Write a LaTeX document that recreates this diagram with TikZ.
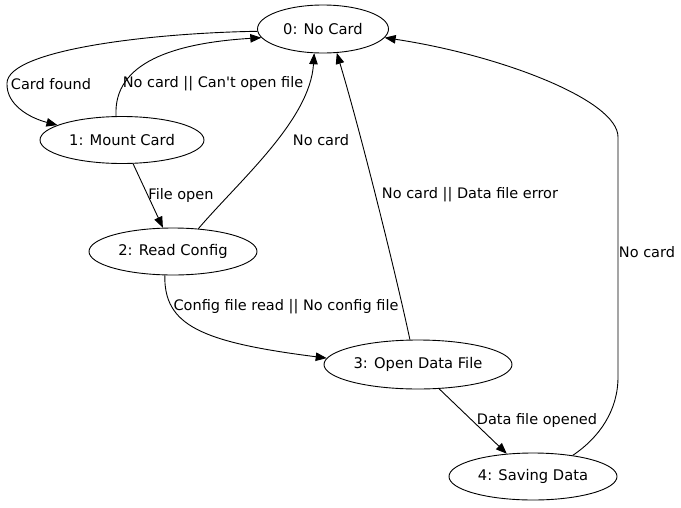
\documentclass[tikz,border=0pt]{standalone}
\usepackage{fontspec}
\setmainfont{DejaVu Sans}
\usetikzlibrary{shapes.geometric, arrows.meta}

\tikzstyle{state} = [ellipse, draw, line width = 0.9pt, inner sep = 0pt, font = \fontsize{14.7}{17}\selectfont]
\tikzstyle{trans} = [line width = 0.9pt, -{Triangle[length = 11pt, width = 8.5pt]}]
\tikzstyle{lbl} = [inner sep = 0pt, font = \fontsize{14.5}{17}\selectfont]

\begin{document}
\begin{tikzpicture}[x = 1pt, y = -1pt]
      \useasboundingbox (0, 0) rectangle (681, 507);

      % States
      \node[state, minimum width = 131pt, minimum height = 48pt] (nocard)   at (323, 29)    {0: No Card};
      \node[state, minimum width = 164pt, minimum height = 47pt] (mount)    at (122, 140)   {1: Mount Card};
      \node[state, minimum width = 168pt, minimum height = 47pt] (config)   at (173, 251.5) {2: Read Config};
      \node[state, minimum width = 188pt, minimum height = 49pt] (openfile) at (418, 364.5) {3: Open Data File};
      \node[state, minimum width = 168pt, minimum height = 47pt] (saving)   at (533, 476.5) {4: Saving Data};

      % Labels
      \node[lbl] (lfound)  at ( 51,  84) {Card found};
      \node[lbl] (lfail)   at (213,  84) {No card || Can\textquotesingle t open file};
      \node[lbl] (lnocfg)  at (321, 140) {No card};
      \node[lbl] (lopen)   at (181, 195) {File open};
      \node[lbl] (lerror)  at (470, 195) {No card || Data file error};
      \node[lbl] (lread)   at (286, 307) {Config file read || No config file};
      \node[lbl] (lopened) at (537, 420) {Data file opened};
      \node[lbl] (lsave)   at (647, 252) {No card};

      % Transitions
      \draw[trans] (nocard.182) .. controls (150, 33) and (8, 50) .. (7, 83)
                                .. controls (6, 105) and (30, 118) .. (mount.167);
      \draw[trans] (mount.104) .. controls (113, 62) and (175, 43) .. (nocard.188);
      \draw[trans] (mount.295) -- (config.113);
      \draw[trans] (config.42) .. controls (240, 180) and (310, 120) .. (nocard.250);
      \draw[trans] (config.251) .. controls (164, 325) and (200, 342) .. (openfile.176);
      \draw[trans] (openfile.108) .. controls (395, 270) and (360, 130) .. (nocard.300);
      \draw[trans] (openfile.311) -- (saving.139);
      \draw[trans] (saving.28) .. controls (600, 437) and (618, 410) .. (618, 377)
                   -- (618, 137) .. controls (618, 100) and (500, 55) .. (nocard.352);
    \end{tikzpicture}
\end{document}
